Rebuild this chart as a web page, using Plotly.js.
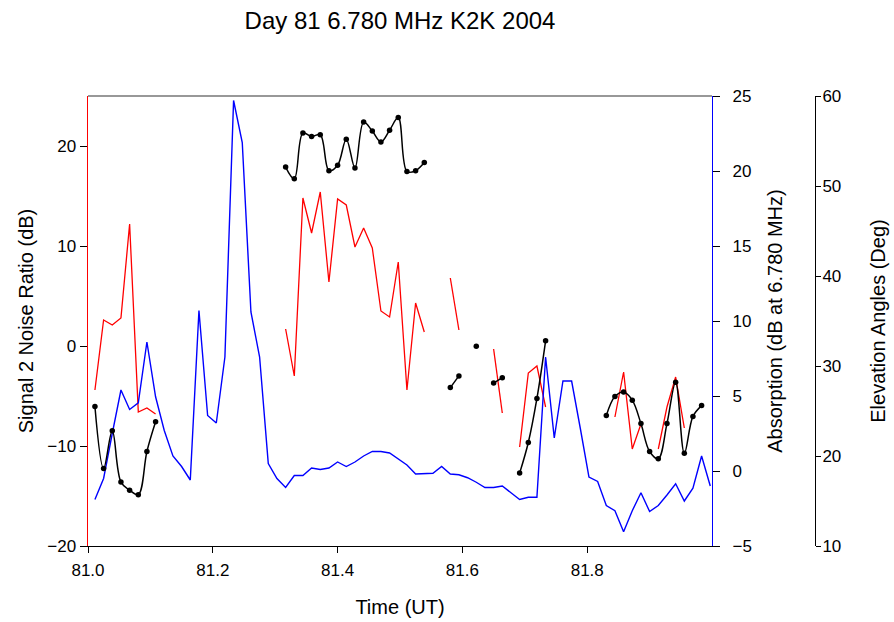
<!DOCTYPE html>
<html>
<head>
<meta charset="utf-8">
<script src="https://cdn.plot.ly/plotly-3.0.1.min.js"></script>
<style>html,body{margin:0;padding:0;background:#fff;}#chart{width:894px;height:622px;}</style>
</head>
<body>
<div id="chart"></div>
<script>
// Time (UT, decimal day 81), one sample every 20 minutes
const timeUT = [
  81.0111, 81.0250, 81.0389, 81.0528, 81.0667, 81.0806, 81.0944, 81.1083, 81.1222, 81.1361,
  81.1500, 81.1639, 81.1778, 81.1917, 81.2056, 81.2194, 81.2333, 81.2472, 81.2611, 81.2750,
  81.2889, 81.3028, 81.3167, 81.3306, 81.3444, 81.3583, 81.3722, 81.3861, 81.4000, 81.4139,
  81.4278, 81.4417, 81.4556, 81.4694, 81.4833, 81.4972, 81.5111, 81.5250, 81.5389, 81.5528,
  81.5667, 81.5806, 81.5944, 81.6083, 81.6222, 81.6361, 81.6500, 81.6639, 81.6778, 81.6917,
  81.7056, 81.7194, 81.7333, 81.7472, 81.7611, 81.7750, 81.7889, 81.8028, 81.8167, 81.8306,
  81.8444, 81.8583, 81.8722, 81.8861, 81.9000, 81.9139, 81.9278, 81.9417, 81.9556, 81.9694,
  81.9833, 81.9972
];

// Signal to noise ratio (dB) - red, left axis
const snr = [
  -4.4, 2.6, 2.1, 2.8, 12.2, -6.6, -6.2, -6.8, null, null,
  null, null, null, null, null, null, null, null, null, null,
  null, null, 1.7, -3.0, 14.8, 11.3, 15.4, 6.4, 14.7, 14.1,
  9.9, 11.8, 9.8, 3.5, 2.9, 8.4, -4.4, 4.3, 1.4, null,
  null, 6.8, 1.6, null, null, null, -0.3, -6.7, null, -10.1,
  -2.7, -2.0, -6.1, null, null, null, null, null, null, null,
  -7.1, -2.6, -10.3, -7.8, null, -10.3, -6.1, -3.1, -8.2, null,
  null, null
];

// Absorption (dB at 6.780 MHz) - blue, right axis
const absorption = [
  -1.9, -0.5, 2.5, 5.4, 4.1, 4.55, 8.6, 4.95, 2.7, 1.0,
  0.3, -0.6, 10.7, 3.7, 3.2, 7.6, 24.7, 21.9, 10.6, 7.6,
  0.5, -0.5, -1.1, -0.3, -0.3, 0.2, 0.1, 0.2, 0.6, 0.3,
  0.6, 1.0, 1.3, 1.3, 1.2, 0.8, 0.4, -0.2, -0.2, -0.15,
  0.3, -0.2, -0.25, -0.45, -0.75, -1.1, -1.1, -1.0, -1.45, -1.9,
  -1.75, -1.75, 7.6, 2.2, 6.0, 6.0, 2.85, -0.4, -0.7, -2.3,
  -2.65, -4.05, -2.65, -1.45, -2.7, -2.3, -1.6, -0.85, -2.0, -1.15,
  1.0, -1.0
];

// Elevation angles (deg) - black, outer right axis
const elevation = [
  25.5, 18.6, 22.8, 17.1, 16.2, 15.7, 20.5, 23.8, null, null,
  null, null, null, null, null, null, null, null, null, null,
  null, null, 52.1, 50.8, 55.9, 55.5, 55.7, 51.7, 52.3, 55.2,
  52.0, 57.1, 56.1, 54.9, 56.2, 57.6, 51.6, 51.7, 52.6, null,
  null, 27.6, 28.9, null, 32.2, null, 28.1, 28.7, null, 18.1,
  21.5, 26.4, 32.8, null, null, null, null, null, null, 24.5,
  26.6, 27.1, 26.2, 23.6, 20.5, 19.7, 23.6, 28.2, 20.3, 24.4,
  25.6, null
];

const xTicks = [81.0, 81.2, 81.4, 81.6, 81.8];
const xTickText = ['81.0', '81.2', '81.4', '81.6', '81.8'];

const FONT = 'Liberation Sans, Arial, sans-serif';

const traces = [
  {x: timeUT, y: absorption, yaxis: 'y2', type: 'scatter', mode: 'lines',
   line: {color: '#0000ff', width: 1.4}, connectgaps: false},
  {x: timeUT, y: snr, yaxis: 'y', type: 'scatter', mode: 'lines',
   line: {color: '#ff0000', width: 1.3}, connectgaps: false},
  {x: timeUT, y: elevation, yaxis: 'y3', type: 'scatter', mode: 'lines+markers',
   line: {color: '#000000', width: 1.5, shape: 'spline', smoothing: 1},
   marker: {color: '#000000', size: 5.5, symbol: 'circle'}, connectgaps: false}
];

const layout = {
  width: 894, height: 622,
  paper_bgcolor: '#ffffff', plot_bgcolor: '#ffffff',
  showlegend: false,
  font: {family: FONT, size: 17, color: '#000'},
  margin: {l: 88, r: 64, t: 96, b: 76, pad: 0},
  title: {text: 'Day 81 6.780 MHz K2K 2004', font: {family: FONT, size: 24, color: '#000'},
          x: 0.4205, xref: 'paper', xanchor: 'center', y: 0.967, yref: 'container', yanchor: 'middle'},
  xaxis: {
    domain: [0, 0.841], range: [81.0, 82.0],
    tickvals: xTicks, ticktext: xTickText,
    ticks: 'outside', ticklen: 6, tickwidth: 1, tickcolor: '#000',
    showline: true, linecolor: '#000', linewidth: 1.2, mirror: false,
    showgrid: false, zeroline: false, ticklabelstandoff: 2,
    tickfont: {family: FONT, size: 17},
    title: {text: 'Time (UT)', font: {family: FONT, size: 20}, standoff: 21}
  },
  yaxis: {
    range: [-20, 25], tickvals: [-20, -10, 0, 10, 20],
    ticks: 'outside', ticklen: 7, tickwidth: 1, tickcolor: '#000',
    showline: true, linecolor: '#ff0000', linewidth: 1.5,
    showgrid: false, zeroline: false,
    tickfont: {family: FONT, size: 17},
    title: {text: 'Signal 2 Noise Ratio (dB)', font: {family: FONT, size: 20}, standoff: 8}
  },
  yaxis2: {
    overlaying: 'y', side: 'right', anchor: 'x',
    range: [-5, 25], tickvals: [-5, 0, 5, 10, 15, 20, 25],
    ticks: 'outside', ticklen: 7, tickwidth: 1, tickcolor: '#000',
    showline: true, linecolor: '#0000ff', linewidth: 1.2,
    showgrid: false, zeroline: false, ticklabelstandoff: 9,
    tickfont: {family: FONT, size: 17},
    title: {text: 'Absorption (dB at 6.780 MHz)', font: {family: FONT, size: 20}, standoff: 17}
  },
  yaxis3: {
    overlaying: 'y', side: 'right', anchor: 'free', position: 0.9798,
    range: [10, 60], tickvals: [10, 20, 30, 40, 50, 60],
    ticks: 'outside', ticklen: 5, tickwidth: 1, tickcolor: '#000',
    showline: true, linecolor: '#000', linewidth: 1,
    showgrid: false, zeroline: false, ticklabelstandoff: -2,
    tickfont: {family: FONT, size: 17},
    title: {text: 'Elevation Angles (Deg)', font: {family: FONT, size: 20}, standoff: 30}
  },
  shapes: [
    {type: 'line', xref: 'x', yref: 'paper', x0: 81.0, x1: 82.0, y0: 1, y1: 1,
     line: {color: '#333', width: 1.2}}
  ]
};

Plotly.newPlot('chart', traces, layout, {staticPlot: true, displayModeBar: false});
</script>
</body>
</html>
